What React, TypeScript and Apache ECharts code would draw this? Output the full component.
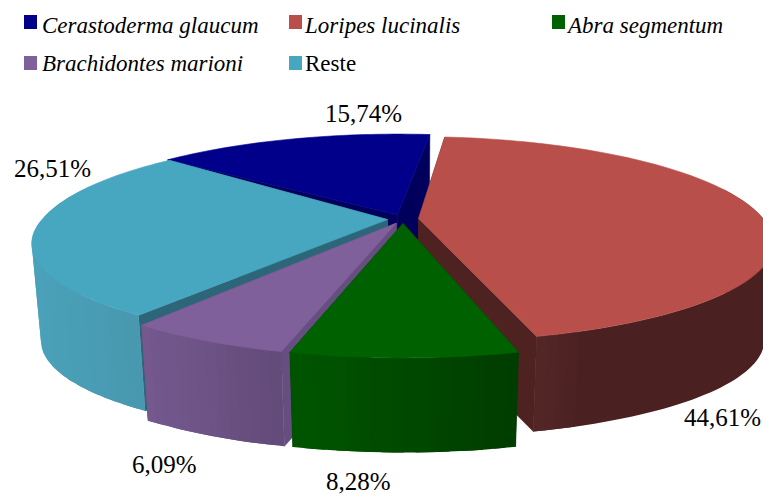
import React, { useEffect, useRef } from "react";
import * as echarts from "echarts";

const categories = ["Cerastoderma glaucum", "Loripes lucinalis", "Abra segmentum", "Brachidontes marioni", "Reste"];
const values = [15.74, 44.61, 8.28, 6.09, 26.51];
const valueLabels = ["15,74%", "44,61%", "8,28%", "6,09%", "26,51%"];
const topColors = ["#00008b", "#b94f4b", "#006100", "#7f609b", "#47a6c0"];
const wallLeft = ["#000070", "#6a3535", "#005600", "#75598f", "#4aa1b9"];
const wallRight = ["#000070", "#4a2020", "#003d00", "#634b7a", "#4796ac"];
const cutColors = ["#00005c", "#4f2222", "#003d00", "#664f80", "#2c6678"];
const drawOrder = [0, 4, 1, 3, 2];
const swatches = [[24, 15], [289, 15], [552, 15], [24, 56], [289, 56]];
const legendText = [[42, 25], [305, 25], [568, 25], [42, 63], [305, 63]];
const labelPos = [[325, 113], [684, 417], [326, 481], [132, 464], [14, 168]];
const startTrim = [-1, -0.5, 0, 0, -1];
const endTrim = [0, 0, 0, 0, 2];
const frontScale = [1, 0.94, 1, 1, 0.94];

const CX = 403, CY = 219, R = 345, H = 101, P = 0.23, EXPLODE = 0.045, DEPTH = 98, SHRINK = 0.975, START = 310.5;
const total = values.reduce((a, b) => a + b, 0);

const project = (px: number, py: number) => {
  const k = 1 / (1 - py * P);
  return [CX + R * px * k, CY + H * py * k];
};
const lower = (p: number[]) => [CX + (p[0] - CX) * SHRINK, CY + (p[1] - CY) * SHRINK + DEPTH];
const hex = (c: string) => [1, 3, 5].map((i) => parseInt(c.slice(i, i + 2), 16));
const mix = (a: string, b: string, t: number) => {
  const A = hex(a), B = hex(b);
  return "rgb(" + A.map((v, i) => Math.round(v + (B[i] - v) * t)).join(",") + ")";
};

function sliceShapes(i: number) {
  let before = 0;
  for (let j = 0; j < i; j++) before += values[j];
  const base0 = START + (before / total) * 360;
  const base1 = base0 + (values[i] / total) * 360;
  const mid = (((base0 + base1) / 2) * Math.PI) / 180;
  const a0 = base0 + startTrim[i], a1 = base1 + endTrim[i];
  const ex = Math.sin(mid) * EXPLODE, ey = -Math.cos(mid) * EXPLODE;
  const tip = project(ex, ey);
  const n = Math.max(12, Math.round((a1 - a0) / 1.5));
  const arc: number[][] = [];
  const angs: number[] = [];
  for (let s = 0; s <= n; s++) {
    const a = ((a0 + ((a1 - a0) * s) / n) * Math.PI) / 180;
    angs.push(a);
    const p = project(ex + Math.sin(a), ey - Math.cos(a));
    if (p[1] > tip[1]) p[1] = tip[1] + (p[1] - tip[1]) * frontScale[i];
    arc.push(p);
  }
  const kids: any[] = [];
  const poly = (points: number[][], color: string, lineWidth = 0.6) => kids.push({
    type: "polygon",
    shape: { points },
    style: lineWidth ? { fill: color, stroke: color, lineWidth } : { fill: color },
  });
  const cut = cutColors[i];
  poly([tip, arc[0], lower(arc[0]), lower(tip)], cut);
  poly([tip, arc[n], lower(arc[n]), lower(tip)], cut);
  const xs = arc.map((p) => p[0]);
  const minX = Math.min(...xs), maxX = Math.max(...xs);
  const turnA = xs.indexOf(maxX), turnB = xs.indexOf(minX);
  const bandOf = (s: number) => {
    const t = Math.min(1, ((arc[s][0] - minX) / (maxX - minX)) * (i === 1 ? 2.2 : 1));
    return Math.round(t * 14) / 14;
  };
  let s = 0;
  while (s < n) {
    const am = (angs[s] + angs[s + 1]) / 2;
    if (-Math.cos(am) < -0.3) { s++; continue; }
    const band = bandOf(s);
    let e = s + 1;
    while (e < n && bandOf(e) === band && e !== turnA && e !== turnB) e++;
    const isTurn = e === turnA || e === turnB;
    const stop = isTurn ? e : Math.min(n, e + 1);
    const upper = arc.slice(s, stop + 1);
    const bottom = upper.map(lower).reverse();
    poly([...upper, ...bottom], mix(wallLeft[i], wallRight[i], band), 0);
    s = e;
  }
  poly([tip, ...arc], topColors[i]);
  return kids;
}

export default function App() {
  const ref = useRef<HTMLDivElement>(null);
  useEffect(() => {
    document.body.style.margin = "0";
    const chart = echarts.init(ref.current!, null, { renderer: "svg" });
    const font = '"Liberation Serif", serif';
    chart.setOption({
      animation: false,
      backgroundColor: "#ffffff",
      series: [{
        type: "custom",
        coordinateSystem: "none",
        silent: true,
        clip: false,
        data: drawOrder.map((i) => ({ name: categories[i], value: [i, values[i]] })),
        renderItem: (_p: any, api: any) => ({ type: "group", children: sliceShapes(api.value(0)) }),
      }],
      graphic: [
        ...categories.flatMap((name, i) => [
          { type: "rect", shape: { x: swatches[i][0], y: swatches[i][1], width: 13, height: 14 }, style: { fill: topColors[i] } },
          {
            type: "text", x: legendText[i][0], y: legendText[i][1],
            style: { text: name, font: (i === 4 ? "" : "italic ") + "23px " + font, fill: "#000", verticalAlign: "middle" },
          },
        ]),
        ...valueLabels.map((text, i) => ({
          type: "text", x: labelPos[i][0], y: labelPos[i][1],
          style: { text, font: "25px " + font, fill: "#000", verticalAlign: "middle" },
        })),
      ],
    });
    return () => chart.dispose();
  }, []);
  return <div ref={ref} style={{ width: 763, height: 494 }} />;
}
